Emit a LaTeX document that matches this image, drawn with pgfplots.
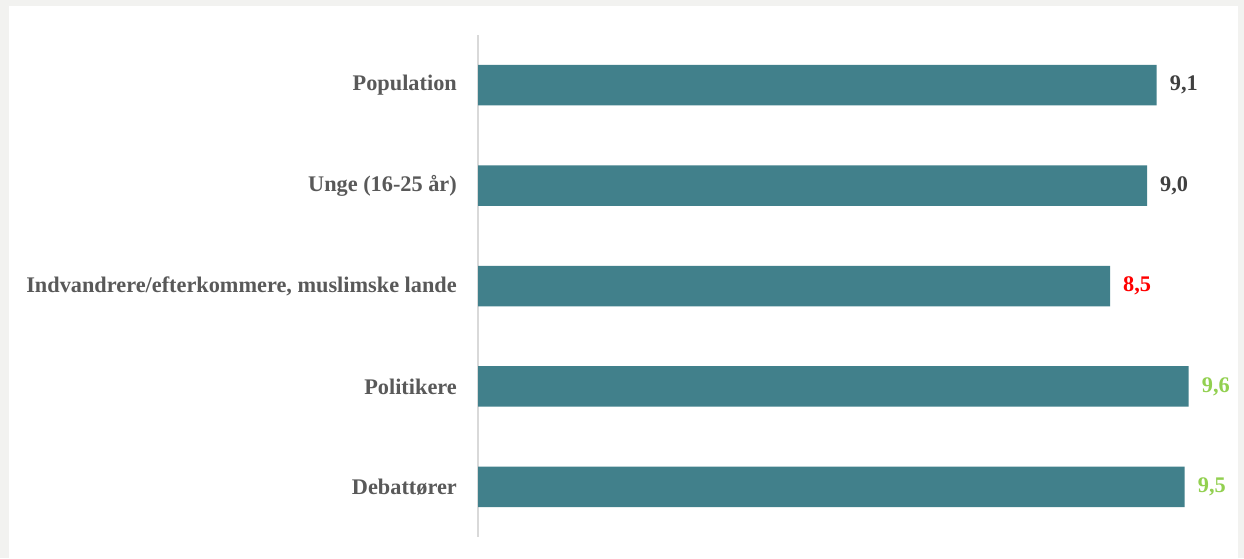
\documentclass[border=0pt]{standalone}
\usepackage{fontspec}
\setmainfont{Liberation Serif}
\usepackage{pgfplots}
\pgfplotsset{compat=1.18}
\definecolor{barc}{HTML}{41808B}
\definecolor{bggray}{HTML}{F2F2F0}
\definecolor{labelgray}{HTML}{595959}
\definecolor{valgray}{HTML}{404040}
\definecolor{valgreen}{HTML}{92D050}
\definecolor{valred}{HTML}{FF0000}
\definecolor{axisgray}{HTML}{D9D9D9}
\begin{document}
\begin{tikzpicture}[x=1pt,y=1pt]
\fill[bggray] (0,0) rectangle (1244,558);
\fill[white] (9,0) rectangle (1238,552);
\begin{axis}[
  at={(478pt,21pt)}, anchor=south west,
  scale only axis, width=743pt, height=502pt,
  xmin=0, xmax=10, ymin=-0.5, ymax=4.5, y dir=reverse,
  xbar, bar width=40.5pt, bar shift=0pt,
  axis x line=none, axis y line=left,
  y axis line style={draw=axisgray, line width=1.5pt, -},
  ytick={0,1,2,3,4},
  yticklabels={Population, Unge (16-25 år), {Indvandrere/efterkommere, muslimske lande}, Politikere, Debattører},
  major tick length=0pt,
  yticklabel style={font=\fontsize{22.3}{26}\selectfont\bfseries, text=labelgray, inner sep=0pt, xshift=-21pt},
  nodes near coords, point meta=explicit symbolic,
  nodes near coords style={font=\fontsize{22.3}{26}\selectfont\bfseries, anchor=west, inner sep=0pt, xshift=13pt},
  clip=false,
]
\addplot[fill=barc, draw=none] coordinates {
  (9.135,0) [\textcolor{valgray}{9,1}]
  (9.004,1) [\textcolor{valgray}{9,0}]
  (8.506,2) [\textcolor{valred}{8,5}]
  (9.565,3) [\textcolor{valgreen}{9,6}]
  (9.511,4) [\textcolor{valgreen}{9,5}]
};
\end{axis}
\end{tikzpicture}
\end{document}
